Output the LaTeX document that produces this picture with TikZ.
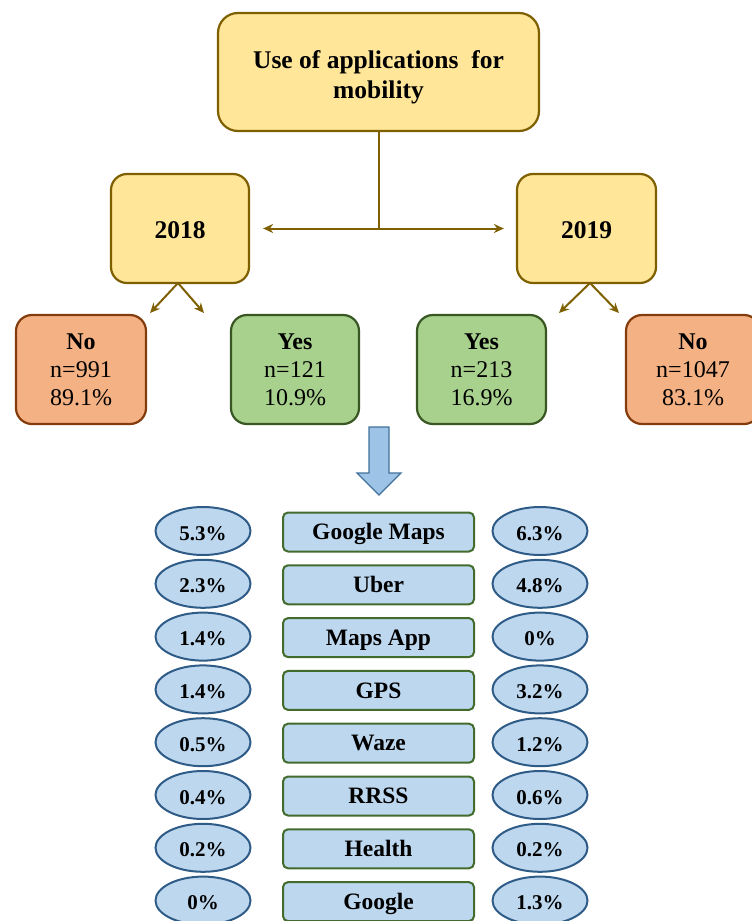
\documentclass[tikz,border=0pt]{standalone}
\usepackage{fontspec}
\setmainfont{Liberation Serif}
\usetikzlibrary{shapes.geometric,arrows.meta}
\definecolor{yfill}{HTML}{FFE699}
\definecolor{ydraw}{HTML}{7F6000}
\definecolor{ofill}{HTML}{F4B183}
\definecolor{odraw}{HTML}{843C0C}
\definecolor{gfill}{HTML}{A9D18E}
\definecolor{gdraw}{HTML}{385723}
\definecolor{bfill}{HTML}{BDD7EE}
\definecolor{bdraw}{HTML}{2F5B87}
\definecolor{mdraw}{HTML}{426B2C}
\definecolor{afill}{HTML}{9DC3E6}
\definecolor{adraw}{HTML}{41719C}
\begin{document}
\begin{tikzpicture}[x=1pt,y=-1pt,
  ybox/.style={draw=ydraw, fill=yfill, line width=2.2pt, rounded corners=16pt,
    align=center, inner sep=0pt, font=\fontsize{25.5}{30}\selectfont\bfseries},
  resbox/.style={line width=2.2pt, rounded corners=16pt, align=center, inner sep=0pt,
    minimum width=#1, minimum height=109pt, text height=72.6pt, text depth=0pt,
    font=\fontsize{24}{28}\selectfont},
  obox/.style={resbox=#1, draw=odraw, fill=ofill},
  gbox/.style={resbox=#1, draw=gdraw, fill=gfill},
  conn/.style={draw=ydraw, line width=2pt, -{Stealth[length=10pt,width=9pt]}},
  pct/.style={ellipse, draw=bdraw, fill=bfill, line width=2pt, inner sep=0pt,
    text height=18pt, text depth=0pt,
    minimum width=95pt, minimum height=48pt, font=\fontsize{21}{24}\selectfont\bfseries},
  app/.style={draw=mdraw, fill=bfill, line width=2pt, rounded corners=5pt, inner sep=0pt,
    text height=15.5pt, text depth=0pt,
    minimum width=191pt, minimum height=39pt, font=\fontsize{23.5}{24}\selectfont\bfseries},
  barrow/.style={draw=adraw, fill=afill, line width=1.2pt, line join=miter}
]
\useasboundingbox (0,0) rectangle (752,921);

\node[ybox, minimum width=321pt, minimum height=118pt, rounded corners=20pt,
  text height=53pt, text depth=0pt] (top) at (378.5,72)
  {Use of applications\ \ for\\mobility};
\node[ybox, minimum width=138pt, minimum height=109pt, text height=19pt, text depth=0pt]
  (y18) at (180,228.5) {2018};
\node[ybox, minimum width=139pt, minimum height=109pt, text height=19pt, text depth=0pt]
  (y19) at (586.5,228.5) {2019};

\coordinate (j) at (top.south |- y18.center);
\draw[draw=ydraw, line width=2pt] (top.south) -- (j);
\draw[conn, shorten >=13pt] (j) -- (j -| y18.east);
\draw[conn, shorten >=12pt] (j) -- (j -| y19.west);

\node[obox=130pt] (no18) at (81,369.5) {\textbf{No}\\n=991\\89.1\%};
\node[gbox=128pt] (yes18) at (295,369.5) {\textbf{Yes}\\n=121\\10.9\%};
\node[gbox=129pt] (yes19) at (481.5,369.5) {\textbf{Yes}\\n=213\\16.9\%};
\node[obox=134pt] (no19) at (693,369.5) {\textbf{No}\\n=1047\\83.1\%};

\coordinate (t18a) at (150,313);
\coordinate (t18b) at (204,313);
\coordinate (t19a) at (559,313);
\coordinate (t19b) at (619,313);
\coordinate (s18) at (178,283);
\coordinate (s19) at (590,283);
\draw[conn] (s18) -- (t18a);
\draw[conn] (s18) -- (t18b);
\draw[conn] (s19) -- (t19a);
\draw[conn] (s19) -- (t19b);

\draw[barrow] (369,427) -- (389,427) -- (389,473) -- (401,473) -- (379,495)
  -- (357,473) -- (369,473) -- cycle;

\foreach \a/\b/\c [count=\i from 0] in {5.3\%/Google Maps/6.3\%, 2.3\%/Uber/4.8\%,
  1.4\%/Maps App/0\%, 1.4\%/GPS/3.2\%, 0.5\%/Waze/1.2\%, 0.4\%/RRSS/0.6\%,
  0.2\%/Health/0.2\%, 0\%/Google/1.3\%} {
  \node[pct] (l\i) at (203, 531+\i*52.8) {\a};
  \node[app] (m\i) at (378.5, 532+\i*52.8) {\b};
  \node[pct] (r\i) at (540, 531+\i*52.8) {\c};
}
\end{tikzpicture}
\end{document}
